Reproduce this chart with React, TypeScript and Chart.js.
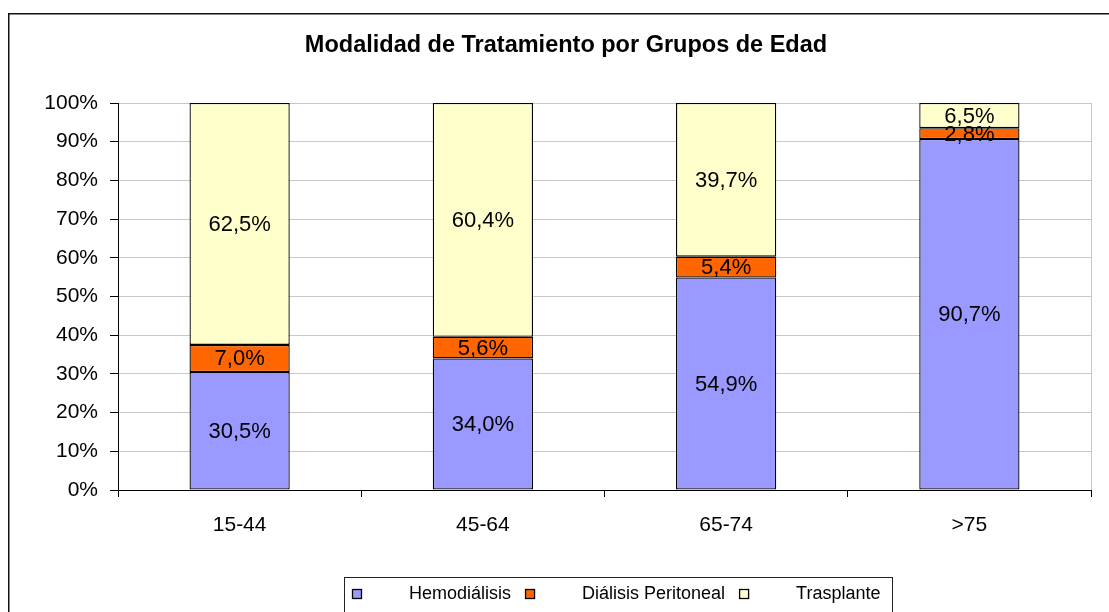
import React, { useEffect, useRef } from "react";
import { Chart, registerables } from "chart.js";

Chart.register(...registerables);

const TITLE = "Modalidad de Tratamiento por Grupos de Edad";
const categories = ["15-44", "45-64", "65-74", ">75"];
const seriesNames = ["Hemodiálisis", "Diálisis Peritoneal", "Trasplante"];
const hemodialisis = [30.5, 34.0, 54.9, 90.7];
const dialisisPeritoneal = [7.0, 5.6, 5.4, 2.8];
const trasplante = [62.5, 60.4, 39.7, 6.5];
const seriesColors = ["#9999FF", "#FF6600", "#FFFFCC"];

const FONT = '"Liberation Sans", Arial, Helvetica, sans-serif';

const fmt = (v: number) => v.toFixed(1).replace(".", ",") + "%";

const decorPlugin = {
  id: "decor",
  beforeDraw(chart: any) {
    const ctx = chart.ctx;
    ctx.save();
    ctx.fillStyle = "#ffffff";
    ctx.fillRect(0, 0, chart.width, chart.height);
    // outer frame
    ctx.strokeStyle = "#111111";
    ctx.lineWidth = 1.5;
    ctx.strokeRect(8.75, 13.75, chart.width + 40, chart.height + 40);
    // title
    ctx.fillStyle = "#000000";
    ctx.font = `bold 23.5px ${FONT}`;
    ctx.textAlign = "center";
    ctx.textBaseline = "middle";
    ctx.fillText(TITLE, 566, 46);
    // plot right border
    const ca = chart.chartArea;
    ctx.strokeStyle = "#c8c8c8";
    ctx.lineWidth = 1;
    ctx.beginPath();
    ctx.moveTo(Math.round(ca.right) + 0.5, ca.top);
    ctx.lineTo(Math.round(ca.right) + 0.5, ca.bottom + 7);
    ctx.stroke();
    ctx.restore();
  },
  afterDatasetsDraw(chart: any) {
    const ctx = chart.ctx;
    ctx.save();
    ctx.fillStyle = "#000000";
    ctx.font = `22px ${FONT}`;
    ctx.textAlign = "center";
    ctx.textBaseline = "middle";
    chart.data.datasets.forEach((ds: any, di: number) => {
      const meta = chart.getDatasetMeta(di);
      meta.data.forEach((bar: any, i: number) => {
        const p = bar.getProps(["x", "y", "base"], true);
        ctx.fillText(fmt(ds.data[i]), p.x, (p.y + p.base) / 2 + 1);
      });
    });
    ctx.restore();
  },
  afterDraw(chart: any) {
    const ctx = chart.ctx;
    ctx.save();
    // legend frame
    ctx.strokeStyle = "#222222";
    ctx.lineWidth = 1;
    ctx.strokeRect(344.5, 577.5, 548, 100);
    // legend items
    ctx.font = `18px ${FONT}`;
    ctx.textAlign = "left";
    ctx.textBaseline = "middle";
    let x = 352;
    chart.data.datasets.forEach((ds: any) => {
      ctx.fillStyle = ds.backgroundColor;
      ctx.fillRect(x, 589, 10, 10);
      ctx.strokeStyle = "#000000";
      ctx.lineWidth = 1.3;
      ctx.strokeRect(x + 0.5, 589.5, 9, 9);
      const tx = x + 57;
      ctx.fillStyle = "#000000";
      ctx.fillText(ds.label, tx, 594);
      x = tx + ctx.measureText(ds.label).width + 14;
    });
    ctx.restore();
  },
};

export default function App() {
  const ref = useRef<HTMLCanvasElement | null>(null);

  useEffect(() => {
    if (!ref.current) return;
    const values = [hemodialisis, dialisisPeritoneal, trasplante];
    const chart = new Chart(ref.current, {
      type: "bar",
      data: {
        labels: categories,
        datasets: seriesNames.map((name, i) => ({
          label: name,
          data: values[i],
          backgroundColor: seriesColors[i],
          borderColor: "#000000",
          borderWidth: 1.3,
          borderSkipped: false,
          categoryPercentage: 0.412,
          barPercentage: 1,
        })),
      },
      options: {
        responsive: false,
        animation: false,
        devicePixelRatio: 1,
        layout: { padding: { top: 103, left: 0, right: 18, bottom: 52 } },
        plugins: {
          legend: { display: false },
          title: { display: false },
          tooltip: { enabled: false },
        },
        scales: {
          x: {
            stacked: true,
            grid: {
              display: true,
              drawOnChartArea: false,
              drawTicks: true,
              tickLength: 7,
              tickColor: "#000000",
              offset: true,
            },
            border: { display: true, color: "#000000", width: 1 },
            ticks: {
              color: "#000000",
              font: { family: FONT, size: 21 },
              padding: 16,
            },
            afterFit: (s: any) => {
              s.height = 70;
            },
          },
          y: {
            stacked: true,
            min: 0,
            max: 100,
            ticks: {
              stepSize: 10,
              color: "#000000",
              font: { family: FONT, size: 21 },
              padding: 12,
              callback: (v: any) => v + "%",
            },
            grid: {
              color: "#c8c8c8",
              tickColor: "#000000",
              tickLength: 8,
              lineWidth: 1,
            },
            border: { display: true, color: "#000000", width: 1 },
            afterFit: (s: any) => {
              s.width = 118;
            },
          },
        },
      },
      plugins: [decorPlugin],
    });
    return () => chart.destroy();
  }, []);

  return (
    <div style={{ position: "absolute", left: 0, top: 0, width: 1109, height: 612 }}>
      <canvas ref={ref} width={1109} height={612} style={{ display: "block" }} />
    </div>
  );
}
